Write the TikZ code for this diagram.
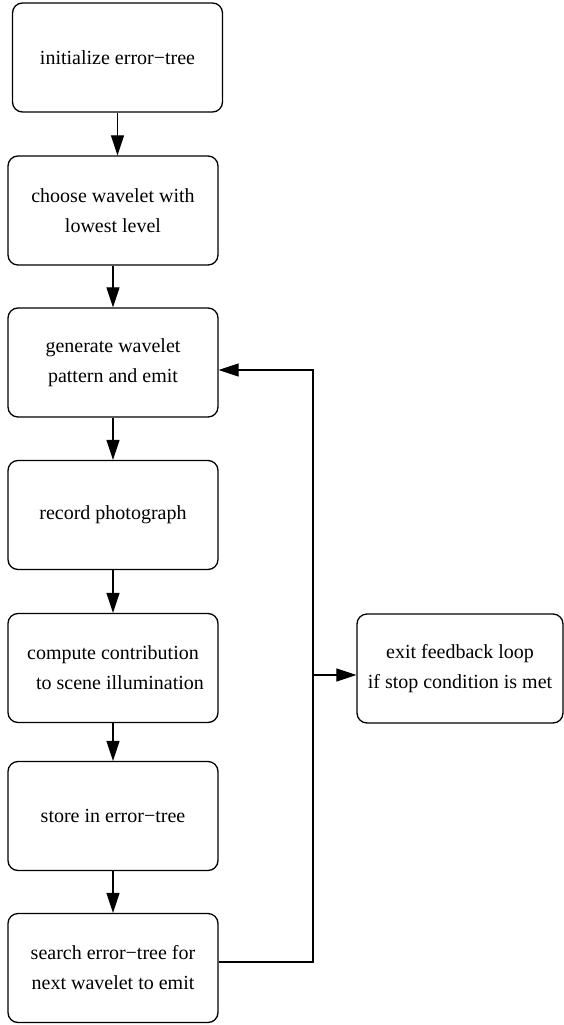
\documentclass[tikz,border=0pt]{standalone}
\usepackage{fontspec}
\setmainfont{Liberation Serif}
\usetikzlibrary{arrows.meta}
\begin{document}
\begin{tikzpicture}[x=1pt,y=-1pt,
  box/.style={draw, line width=1.3pt, rounded corners=10pt, minimum width=210pt, minimum height=109pt, inner sep=0pt, align=center, font=\fontsize{20}{30}\selectfont},
  conn/.style={line width=1.2pt, -{Triangle[length=20pt,width=13pt]}},
  line/.style={line width=1.2pt}]
\useasboundingbox (0,0) rectangle (563,1025);
\node[box] (b1) at (117.5,57.5) {initialize error−tree};
\node[box] (b2) at (113,210.5) {choose wavelet with\\lowest level};
\node[box] (b3) at (113,362.5) {generate wavelet\\pattern and emit};
\node[box] (b4) at (113,515) {record photograph};
\node[box] (b5) at (113,668) {compute contribution\\\hspace*{14pt}to scene illumination};
\node[box] (b6) at (113,816) {store in error−tree};
\node[box] (b7) at (113,968) {search error−tree for\\next wavelet to emit};
\node[box, minimum width=206pt] (ex) at (460,668.5) {exit feedback loop\\if stop condition is met};
\coordinate (j1) at (313,370);
\coordinate (j2) at (313,962);
\coordinate (j3) at (313,675);
\draw[conn] (b1.south) -- (b1.south |- b2.north);
\draw[conn] (b2.south) -- (b3.north);
\draw[conn] (b3.south) -- (b4.north);
\draw[conn] (b4.south) -- (b5.north);
\draw[conn] (b5.south) -- (b6.north);
\draw[conn] (b6.south) -- (b7.north);
\draw[conn] (b7.east |- j2) -- (j2) -- (j1) -- (j1 -| b3.east);
\draw[conn] (j3) -- (j3 -| ex.west);
\end{tikzpicture}
\end{document}
